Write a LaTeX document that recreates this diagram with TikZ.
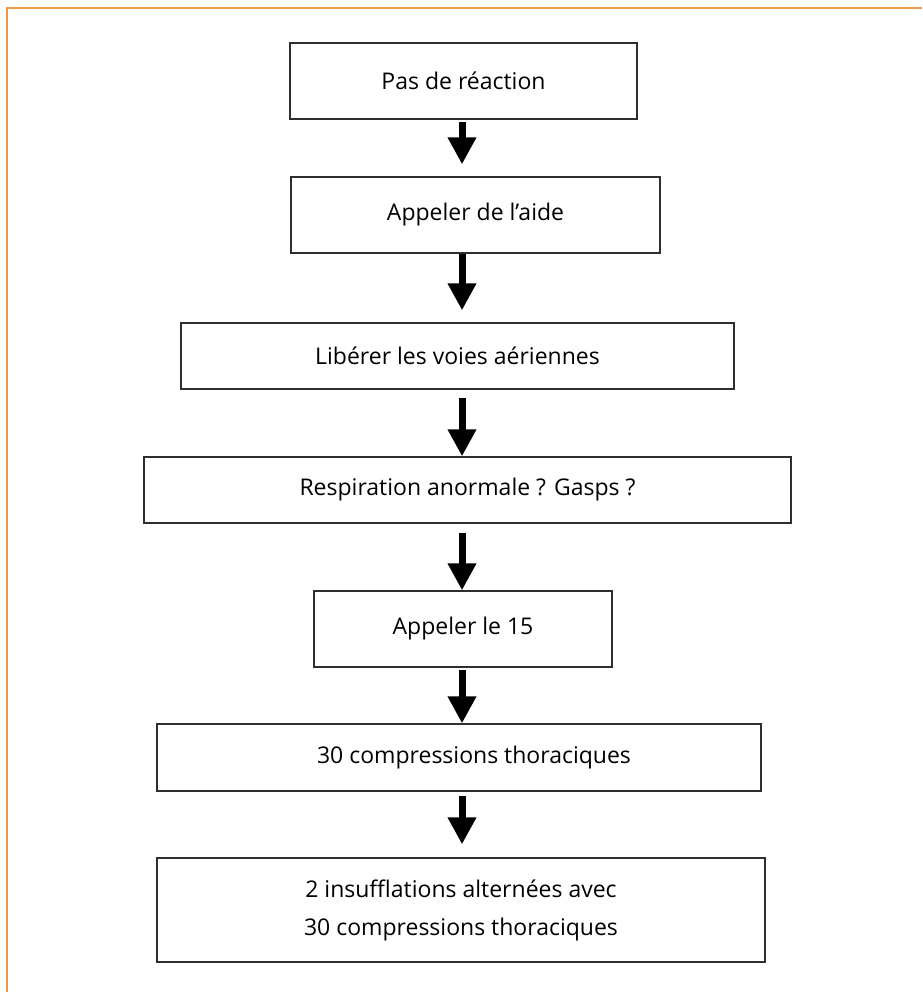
\documentclass[tikz,border=0pt]{standalone}
\usepackage{fontspec}
\setmainfont{Open Sans}
\usetikzlibrary{arrows.meta}
\definecolor{frameorange}{RGB}{238,152,72}
\begin{document}
\begin{tikzpicture}[x=1pt,y=-1pt,
  stepbox/.style={draw=black!82, line width=1.3pt, rectangle, inner sep=0pt, align=center,
    font=\fontsize{23}{38}\selectfont},
  flow/.style={line width=7pt, -{Triangle[width=27pt,length=27pt]}}]
\useasboundingbox (0,0) rectangle (922,992);
\draw[frameorange, line width=2pt] (922,8) -- (7,8) -- (7,992);
\node[stepbox, minimum width=347pt, minimum height=76pt] (b1) at (463.5,81) {Pas de réaction};
\node[stepbox, minimum width=369pt, minimum height=76pt] (b2) at (475.5,215) {Appeler de l’aide};
\node[stepbox, minimum width=553pt, minimum height=66pt] (b3) at (457.5,356) {Libérer les voies aériennes};
\node[stepbox, minimum width=647pt, minimum height=66pt] (b4) at (467.5,490) {Respiration anormale ? Gasps ?};
\node[stepbox, minimum width=298pt, minimum height=76pt] (b5) at (463,629) {Appeler le 15};
\node[stepbox, minimum width=604pt, minimum height=67pt] (b6) at (459,757.5) {\hspace*{30pt}30 compressions thoraciques};
\node[stepbox, minimum width=608pt, minimum height=104pt] (b7) at (461,910) {2 insufflations alternées avec\\ 30 compressions thoraciques};
\coordinate (ax) at (462,0);
\draw[flow, shorten >=12pt] ([yshift=-2pt]b1.south -| ax) -- (b2.north -| ax);
\draw[flow, shorten >=12pt] (b2.south -| ax) -- (b3.north -| ax);
\draw[flow, shorten <=8pt] (b3.south -| ax) -- (b4.north -| ax);
\draw[flow, shorten <=9pt] (b4.south -| ax) -- (b5.north -| ax);
\draw[flow] ([yshift=-2pt]b5.south -| ax) -- (b6.north -| ax);
\draw[flow, shorten >=13pt] ([yshift=-4pt]b6.south -| ax) -- (b7.north -| ax);
\end{tikzpicture}
\end{document}
